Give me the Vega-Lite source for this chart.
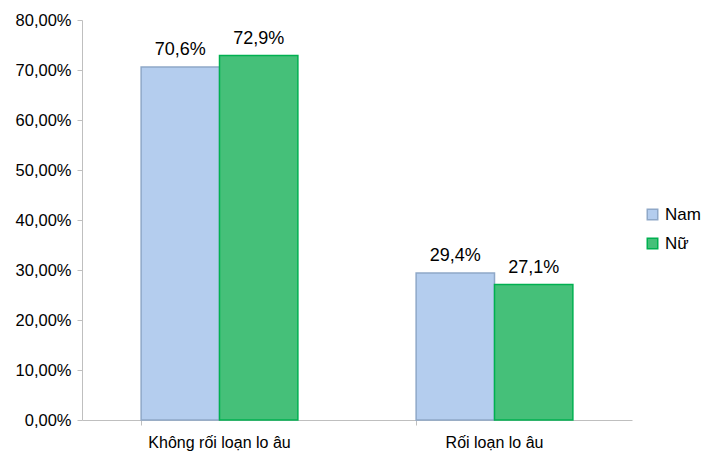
{
  "$schema": "https://vega.github.io/schema/vega-lite/v6.json",
  "width": 550,
  "height": 400,
  "autosize": {"type": "none"},
  "padding": {"left": 82, "top": 20, "right": 78, "bottom": 32},
  "background": "white",
  "config": {
    "view": {"stroke": null},
    "font": "Liberation Sans",
    "axis": {"labelFont": "Liberation Sans", "labelColor": "#000000"}
  },
  "data": {
    "values": [
      {"group": "Không rối loạn lo âu", "sex": "Nam", "value": 70.6, "label": "70,6%"},
      {"group": "Không rối loạn lo âu", "sex": "Nữ", "value": 72.9, "label": "72,9%"},
      {"group": "Rối loạn lo âu", "sex": "Nam", "value": 29.4, "label": "29,4%"},
      {"group": "Rối loạn lo âu", "sex": "Nữ", "value": 27.1, "label": "27,1%"}
    ]
  },
  "encoding": {
    "x": {
      "field": "group", "type": "nominal", "sort": null, "title": null,
      "scale": {"paddingInner": 0.43, "paddingOuter": 0.215},
      "axis": {"labelAngle": 0, "labelFontSize": 16, "labelPadding": 9, "domainColor": "#bfbfbf", "tickColor": "#bfbfbf", "bandPosition": 0, "tickSize": 5}
    },
    "xOffset": {"field": "sex", "type": "nominal", "sort": ["Nam", "Nữ"], "scale": {"paddingInner": 0}},
    "y": {
      "field": "value", "type": "quantitative", "title": null,
      "scale": {"domain": [0, 80]},
      "axis": {"values": [0, 10, 20, 30, 40, 50, 60, 70, 80], "grid": false, "labelExpr": "replace(format(datum.value, '.2f'), '.', ',') + '%'", "labelFontSize": 16.5, "labelPadding": 6, "domainColor": "#bfbfbf", "tickColor": "#bfbfbf", "tickSize": 5}
    }
  },
  "layer": [
    {
      "mark": {"type": "bar", "strokeWidth": 1.5},
      "encoding": {
        "fill": {
          "field": "sex", "type": "nominal", "sort": ["Nam", "Nữ"],
          "scale": {"domain": ["Nam", "Nữ"], "range": ["#b4cdee", "#45c079"]},
          "legend": {"title": null, "orient": "none", "legendX": 562, "legendY": 186, "symbolType": "square", "symbolSize": 110, "labelFontSize": 17, "rowPadding": 11, "symbolStrokeWidth": 1.5}
        },
        "stroke": {
          "field": "sex", "type": "nominal",
          "scale": {"domain": ["Nam", "Nữ"], "range": ["#8fa8c8", "#00b050"]},
          "legend": null
        }
      }
    },
    {
      "mark": {"type": "text", "baseline": "bottom", "dy": -8, "fontSize": 18, "color": "#000000"},
      "encoding": {"text": {"field": "label"}}
    }
  ]
}
